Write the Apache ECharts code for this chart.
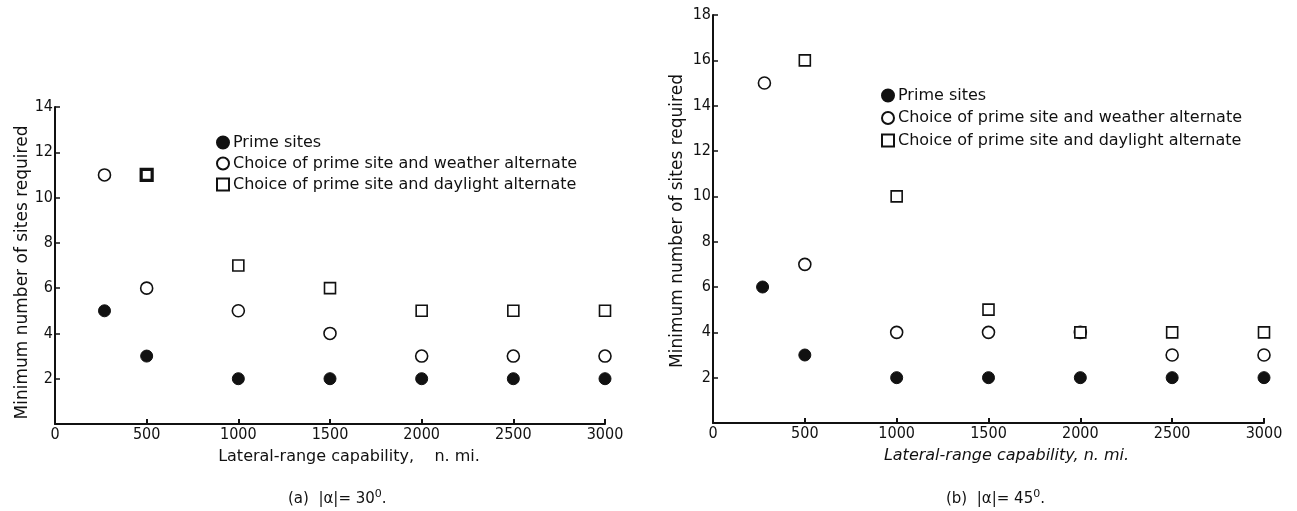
<!DOCTYPE html>
<html>
<head>
<meta charset="utf-8">
<script src="https://cdn.jsdelivr.net/npm/echarts@6/dist/echarts.min.js"></script>
<style>
  html, body { margin: 0; padding: 0; background: #fff; }
  #chart { width: 1297px; height: 511px; }
</style>
</head>
<body>
<div id="chart"></div>
<script>
// Lateral-range capability, n. mi.
const rangeA = [270, 500, 1000, 1500, 2000, 2500, 3000];
const rangeB = [270, 500, 1000, 1500, 2000, 2500, 3000];
const rangeWeatherB = [280, 500, 1000, 1500, 2000, 2500, 3000];
const rangeDaylight = [500, 1000, 1500, 2000, 2500, 3000];

// (a) |alpha| = 30 deg
const primeA = [5, 3, 2, 2, 2, 2, 2];
const weatherA = [11, 6, 5, 4, 3, 3, 3];
const daylightA = [11, 7, 6, 5, 5, 5];

// (b) |alpha| = 45 deg
const primeB = [6, 3, 2, 2, 2, 2, 2];
const weatherB = [15, 7, 4, 4, 4, 3, 3];
const daylightB = [16, 10, 5, 4, 4, 4];

const xTicks = [0, 500, 1000, 1500, 2000, 2500, 3000];
const seriesNames = [
  'Prime sites',
  'Choice of prime site and weather alternate',
  'Choice of prime site and daylight alternate'
];
const captions = ['(a)  |\u03b1|= 30{sup|0}.', '(b)  |\u03b1|= 45{sup|0}.'];

const NARROW = "'DejaVu Sans Condensed', sans-serif";
const WIDE = "'DejaVu Sans', sans-serif";
const INK = '#111';

const pairs = (xs, ys) => xs.map((x, i) => [x, ys[i]]);

function xAxisFor(gridIndex, nameStyle) {
  return {
    type: 'value', gridIndex, min: 0, max: 3000, interval: 500,
    name: gridIndex === 0 ? 'Lateral-range capability,    n. mi.' : 'Lateral-range capability, n. mi.',
    nameLocation: 'middle', nameGap: 25,
    nameTextStyle: Object.assign({ color: INK, fontFamily: WIDE, fontSize: 16 }, nameStyle),
    axisLine: { show: true, lineStyle: { color: INK, width: 2 } },
    axisTick: { show: true, inside: true, length: 5, lineStyle: { color: INK, width: 2 } },
    axisLabel: {
      color: INK, fontFamily: NARROW, fontSize: 16, margin: 3,
      formatter: v => (xTicks.includes(v) ? String(v) : '')
    },
    splitLine: { show: false }
  };
}

function yAxisFor(gridIndex, max, namePad) {
  return {
    type: 'value', gridIndex, min: 0, max, interval: 2,
    name: 'Minimum number of sites required',
    nameLocation: 'middle', nameGap: gridIndex === 0 ? 22 : 27,
    nameTextStyle: { color: INK, fontFamily: WIDE, fontSize: 17, padding: namePad },
    axisLine: { show: true, lineStyle: { color: INK, width: 2 } },
    axisTick: { show: true, inside: true, length: 5, lineStyle: { color: INK, width: 1.5 } },
    axisLabel: {
      color: INK, fontFamily: NARROW, fontSize: 16, margin: 2,
      formatter: v => (v === 0 ? '' : String(v))
    },
    splitLine: { show: false }
  };
}

const filled = { color: INK, borderColor: INK, borderWidth: 1, opacity: 1 };
const hollow = { color: '#fff', borderColor: INK, borderWidth: 1.6, opacity: 1 };

function scatterSet(gridIndex, prime, weather, daylight, xs, xsW) {
  const daylightData = pairs(rangeDaylight, daylight);
  return [
    { name: seriesNames[0], type: 'scatter', xAxisIndex: gridIndex, yAxisIndex: gridIndex,
      symbol: 'circle', symbolSize: 12, itemStyle: filled, data: pairs(xs, prime) },
    { name: seriesNames[1], type: 'scatter', xAxisIndex: gridIndex, yAxisIndex: gridIndex,
      symbol: 'circle', symbolSize: 12, itemStyle: hollow, data: pairs(xsW, weather) },
    { name: seriesNames[2], type: 'scatter', xAxisIndex: gridIndex, yAxisIndex: gridIndex,
      symbol: 'rect', symbolSize: 11, itemStyle: hollow,
      data: daylightData.map((p, i) =>
        gridIndex === 0 && i === 0
          ? { value: p, itemStyle: { borderWidth: 3.2 } }   // heavy outline at 500 n. mi.
          : p) }
  ];
}

function legendFor(left, top, gap) {
  return {
    orient: 'vertical', left, top, padding: 0,
    itemWidth: 12, itemHeight: 12, itemGap: gap,
    selectedMode: false,
    textStyle: { color: INK, fontFamily: WIDE, fontSize: 16, lineHeight: 17, padding: [0, 0, 0, -1] },
    data: seriesNames
  };
}

function caption(text, left) {
  return {
    type: 'text', left, top: 489,
    style: {
      text, fontFamily: WIDE, fontSize: 15, fill: INK,
      rich: { sup: { fontFamily: WIDE, fontSize: 11, fill: INK, verticalAlign: 'top', padding: [0, 0, 9, 0] } }
    }
  };
}

const chart = echarts.init(document.getElementById('chart'), null, { renderer: 'canvas' });
chart.setOption({
  backgroundColor: '#fff',
  animation: false,
  grid: [
    { left: 55, top: 107, width: 550, height: 317 },
    { left: 713, top: 15, width: 551, height: 408 }
  ],
  xAxis: [
    xAxisFor(0, { padding: [0, 0, 0, 38] }),
    xAxisFor(1, { fontStyle: 'italic', padding: [0, 0, 0, 36] })
  ],
  yAxis: [yAxisFor(0, 14, [0, 14, 0, 0]), yAxisFor(1, 18, [0, 4, 0, 0])],
  legend: [legendFor(216, 134, 4), legendFor(881, 87, 5.5)],
  series: [
    ...scatterSet(0, primeA, weatherA, daylightA, rangeA, rangeA),
    ...scatterSet(1, primeB, weatherB, daylightB, rangeB, rangeWeatherB)
  ],
  graphic: [caption(captions[0], 288), caption(captions[1], 946)]
});
</script>
</body>
</html>
